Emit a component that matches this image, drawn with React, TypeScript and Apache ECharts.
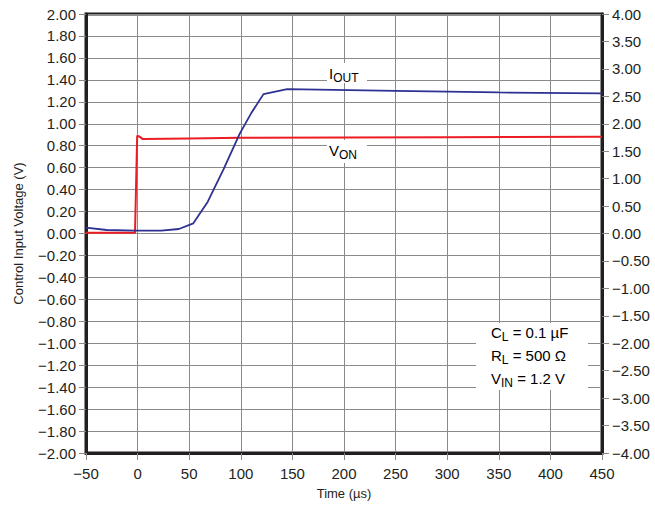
import React, { useEffect, useRef } from "react";
import * as echarts from "echarts";

// Control input (V_ON) trace, volts, left axis
const vOnTime = [-50, -2.5, -0.4, 1.5, 5, 50, 100, 200, 300, 450];
const vOnVolts = [0.006, 0.006, 0.89, 0.885, 0.86, 0.866, 0.872, 0.875, 0.877, 0.882];

// Output current (I_OUT) trace, amps, right axis
const iOutTime = [-50, -30, -2, 23, 40, 54, 68, 83, 99, 110, 122, 145, 250, 350, 450];
const iOutAmps = [0.106, 0.064, 0.052, 0.052, 0.082, 0.186, 0.58, 1.16, 1.82, 2.19, 2.54, 2.63, 2.6, 2.57, 2.555];

// Axis settings
const timeTicks = { min: -50, max: 450, step: 50 };
const voltTicks = { min: -2, max: 2, step: 0.2 };
const ampTicks = { min: -4, max: 4, step: 0.5 };

const conditionLines = [
  ["C", "L", " = 0.1 µF"],
  ["R", "L", " = 500 Ω"],
  ["V", "IN", " = 1.2 V"],
];

const FONT = "'Liberation Sans', Arial, Helvetica, sans-serif";
const INK = "#231f20";
const GRID = "#8a8a8a";

const minus = (s: string) => s.replace("-", "\u2212");

export default function App() {
  const ref = useRef<HTMLDivElement>(null);

  useEffect(() => {
    if (!ref.current) return;
    const chart = echarts.init(ref.current, undefined, { renderer: "svg" });

    const tick = { show: true, inside: false, length: 7, lineStyle: { color: GRID, width: 1 } };
    const axisLine = { show: true, onZero: false, lineStyle: { color: INK, width: 3 } };
    const label = { color: INK, fontSize: 15, fontFamily: FONT };

    const sub = { fontSize: 12, padding: [9, 0, 0, 0], lineHeight: 14, fontFamily: FONT, color: INK };
    const main = { fontSize: 15, lineHeight: 23, fontFamily: FONT, color: INK };

    chart.setOption({
      animation: false,
      textStyle: { fontFamily: FONT },
      grid: {
        left: 86,
        top: 14,
        right: 53,
        bottom: 55,
        show: true,
        borderColor: INK,
        borderWidth: 3,
        containLabel: false,
      },
      xAxis: {
        type: "value",
        min: timeTicks.min,
        max: timeTicks.max,
        interval: timeTicks.step,
        name: "Time (µs)",
        nameLocation: "middle",
        nameGap: 34,
        nameTextStyle: { color: INK, fontSize: 13, fontFamily: FONT },
        axisLine,
        axisTick: tick,
        axisLabel: { ...label, margin: 13, formatter: (v: number) => minus(String(v)) },
        splitLine: { show: true, lineStyle: { color: GRID, width: 1 } },
      },
      yAxis: [
        {
          type: "value",
          position: "left",
          min: voltTicks.min,
          max: voltTicks.max,
          interval: voltTicks.step,
          name: "Control Input Voltage (V)",
          nameLocation: "middle",
          nameGap: 61,
          nameTextStyle: { color: INK, fontSize: 13, fontFamily: FONT },
          axisLine,
          axisTick: tick,
          axisLabel: { ...label, margin: 10, formatter: (v: number) => minus(v.toFixed(2)) },
          splitLine: { show: true, lineStyle: { color: GRID, width: 1 } },
        },
        {
          type: "value",
          position: "right",
          min: ampTicks.min,
          max: ampTicks.max,
          interval: ampTicks.step,
          axisLine,
          axisTick: tick,
          axisLabel: { ...label, margin: 10, formatter: (v: number) => minus(v.toFixed(2)) },
          splitLine: { show: false },
        },
      ],
      series: [
        {
          name: "VON",
          type: "line",
          yAxisIndex: 0,
          symbol: "none",
          lineStyle: { color: "#ed1c24", width: 2 },
          data: vOnTime.map((t, i) => [t, vOnVolts[i]]),
          z: 3,
        },
        {
          name: "IOUT",
          type: "line",
          yAxisIndex: 1,
          symbol: "none",
          lineStyle: { color: "#2e3192", width: 1.8 },
          data: iOutTime.map((t, i) => [t, iOutAmps[i]]),
          z: 4,
        },
      ],
      graphic: [
        // I_OUT trace label
        { type: "rect", shape: { x: 327, y: 63, width: 40, height: 20 }, style: { fill: "#fff" }, z: 10 },
        {
          type: "text",
          x: 329,
          y: 73,
          z: 11,
          style: {
            text: "{m|I}{s|OUT}",
            textAlign: "left",
            textVerticalAlign: "middle",
            rich: { m: main, s: sub },
          },
        },
        // V_ON trace label
        { type: "rect", shape: { x: 327, y: 140, width: 40, height: 23 }, style: { fill: "#fff" }, z: 10 },
        {
          type: "text",
          x: 329,
          y: 150,
          z: 11,
          style: {
            text: "{m|V}{s|ON}",
            textAlign: "left",
            textVerticalAlign: "middle",
            rich: { m: main, s: sub },
          },
        },
        // Test conditions
        { type: "rect", shape: { x: 476, y: 323, width: 112, height: 67 }, style: { fill: "#fff" }, z: 10 },
        {
          type: "text",
          x: 491,
          y: 321,
          z: 11,
          style: {
            text: conditionLines.map(([a, b, c]) => `{m|${a}}{s|${b}}{m|${c}}`).join("\n"),
            textAlign: "left",
            textVerticalAlign: "top",
            rich: { m: main, s: sub },
          },
        },
      ],
    });

    return () => chart.dispose();
  }, []);

  return (
    <div
      ref={ref}
      style={{ position: "fixed", left: 0, top: 0, width: 655, height: 508, background: "#fff" }}
    />
  );
}
